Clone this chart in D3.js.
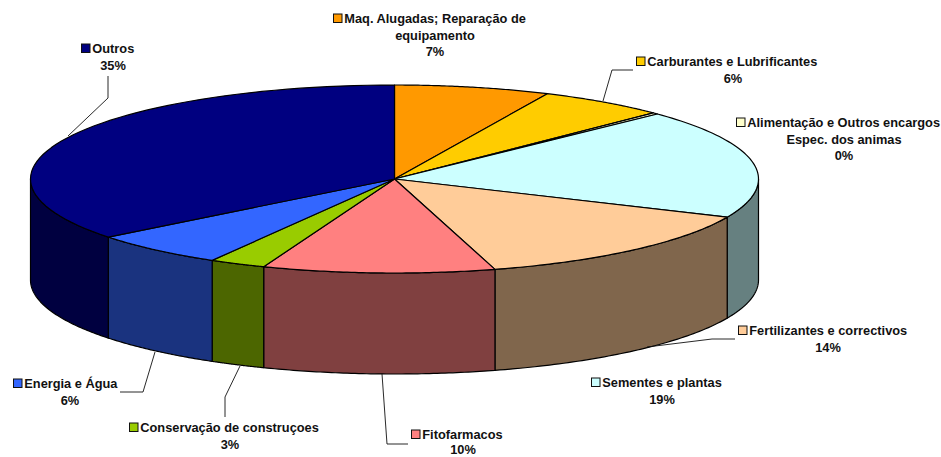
<!DOCTYPE html>
<html><head><meta charset="utf-8">
<script src="https://cdn.jsdelivr.net/npm/d3@7"></script>
<style>html,body{margin:0;padding:0;background:#fff}svg{display:block}text{font-family:"Liberation Sans",Arial,sans-serif;font-weight:bold;font-size:12.8px;fill:#111}</style>
</head><body><svg id="c" width="941" height="457"></svg>
<script>
const categories=["Maq. Alugadas; Reparação de equipamento","Carburantes e Lubrificantes","Alimentação e Outros encargos Espec. dos animas","Sementes e plantas","Fertilizantes e correctivos","Fitofarmacos","Conservação de construçoes","Energia e Água","Outros"];
const values=[6.9,5.7,0.25,18.8,13.9,10.3,2.5,6.05,35.6];
const percentLabels=["7%","6%","0%","19%","14%","10%","3%","6%","35%"];
const topColors=["#FF9900","#FFCC00","#FFFFCC","#CCFFFF","#FFCC99","#FF8080","#99CC00","#3366FF","#000080"];
const sideColors=["#804c00","#806600","#808066","#668080","#80664c","#804040","#4c6600","#1a337f","#000040"];

// layout (not data)
const cx=394.5,cy=179,rx=364,ry=94,depth=101;
const labelLayout=[
 {x:435,y:23,lines:["Maq. Alugadas; Reparação de","equipamento"],sw:333,leader:null,lh:16.5},
 {x:733,y:66,lines:["Carburantes e Lubrificantes"],sw:636,leader:[[633,70],[612,70],[603,101]],lh:16.5},
 {x:844,y:127,lines:["Alimentação e Outros encargos","Espec. dos animas"],sw:736,leader:null,lh:16.5},
 {x:662,y:387,lines:["Sementes e plantas"],sw:591,leader:null,lh:16.5},
 {x:828,y:335,lines:["Fertilizantes e correctivos"],sw:738,leader:[[735,339],[712,339],[647,347]],lh:16.5},
 {x:463,y:439,lines:["Fitofarmacos"],sw:411,leader:[[408,444],[387,444],[382,374]],lh:15},
 {x:230,y:432,lines:["Conservação de construçoes"],sw:129,leader:[[225,417],[225,397],[240,366]],lh:16.5},
 {x:70,y:388,lines:["Energia e Água"],sw:13,leader:[[120,392],[143,392],[155,352]],lh:16.5},
 {x:113,y:53,lines:["Outros"],sw:81,leader:[[108,76],[108,98],[68,136]],lh:16.5}
];

const svg=d3.select("#c");
const pie=d3.pie().sort(null).value(d=>d);
const arcs=pie(values);
const xOf=a=>cx+rx*Math.sin(a), yOf=a=>cy-ry*Math.cos(a);
const rim=(a0,a1,off=0)=>d3.range(0,61).map(i=>{const a=a0+(a1-a0)*i/60;return [xOf(a),yOf(a)+off];});
const line=d3.line();
const PI=Math.PI;

// sides, visible only on the front half
const sides=svg.append("g");
arcs.forEach((d,i)=>{
  const a0=Math.max(d.startAngle,PI/2),a1=Math.min(d.endAngle,3*PI/2);
  if(a1<=a0) return;
  const pts=rim(a0,a1).concat(rim(a1,a0,depth));
  sides.append("path").attr("d",line(pts)+"Z").attr("fill",sideColors[i])
    .attr("stroke","#000").attr("stroke-width",1.2).attr("stroke-linejoin","round");
});
// top
const tops=svg.append("g");
arcs.forEach((d,i)=>{
  const pts=[[cx,cy]].concat(rim(d.startAngle,d.endAngle));
  tops.append("path").attr("d",line(pts)+"Z").attr("fill",topColors[i])
    .attr("stroke","#000").attr("stroke-width",1.2).attr("stroke-linejoin","round");
});
// leaders & labels
const lab=svg.append("g");
categories.forEach((c,i)=>{
  const L=labelLayout[i];
  if(L.leader) lab.append("path").attr("d",line(L.leader)).attr("fill","none").attr("stroke","#111").attr("stroke-width",0.9);
  const rows=L.lines.concat([percentLabels[i]]);
  rows.forEach((t,j)=>{
    const n=lab.append("text").attr("x",L.x).attr("y",L.y+j*L.lh).attr("text-anchor","middle").text(t);
    if(j==0){ n.attr("x",L.sw+11.3).attr("text-anchor","start"); }
  });
  lab.append("rect").attr("x",L.sw+.5).attr("y",L.y-9).attr("width",8.5).attr("height",8.5)
    .attr("fill",topColors[i]).attr("stroke","#111").attr("stroke-width",1);
});
</script></body></html>
